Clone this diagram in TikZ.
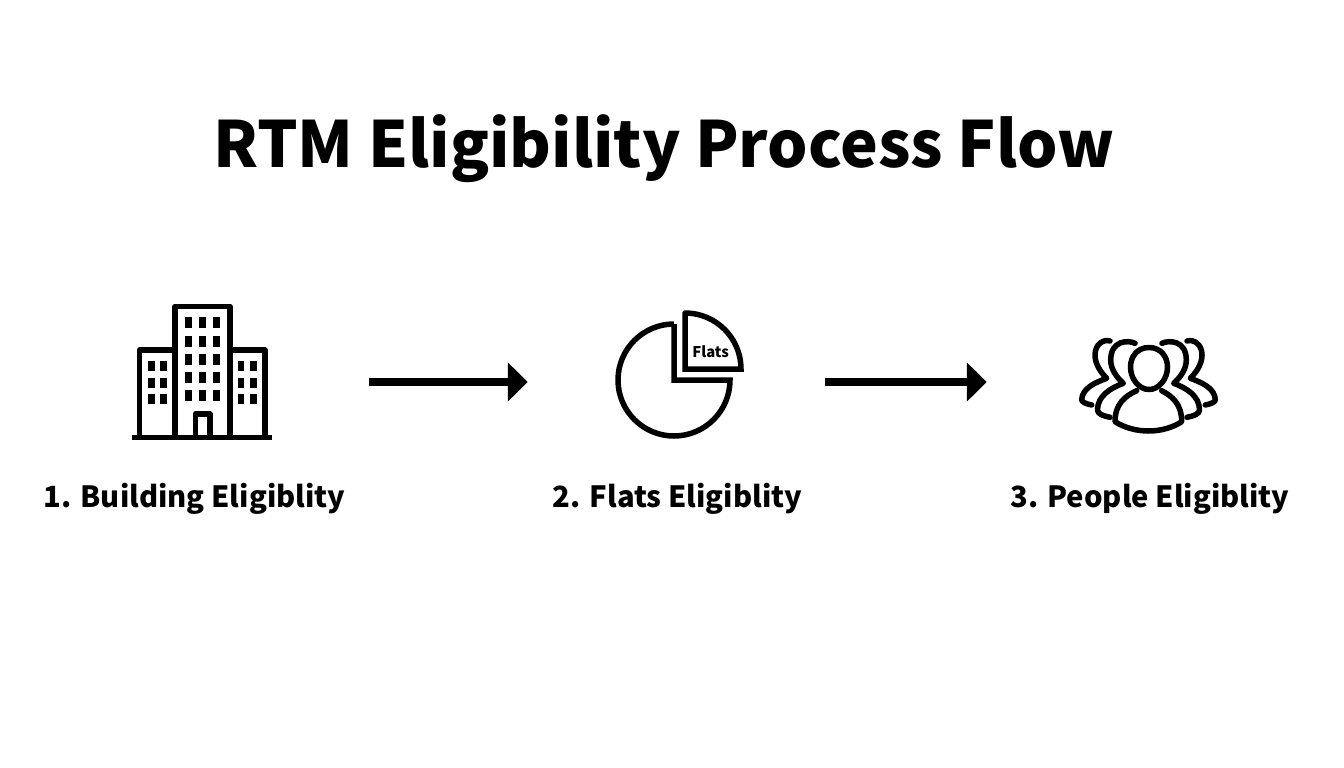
\documentclass[tikz,border=0pt]{standalone}
\usepackage{fontspec}
\setmainfont{Noto Sans CJK SC}
\usetikzlibrary{arrows.meta}
\tikzset{
    title/.style={font=\bfseries\fontsize{63.7}{68}\selectfont, inner sep=0pt, anchor=base},
    caption/.style={font=\bfseries\fontsize{29.2}{36}\selectfont, inner sep=0pt, anchor=base},
    icon/.style={minimum height=120pt, inner sep=0pt},
    outline/.style={line width=5.5pt, line join=round, line cap=round},
    flow/.style={line width=8pt, -{Triangle[length=20pt, width=38pt]}},
    pane/.style={fill=black, minimum width=7pt, minimum height=11pt, inner sep=0pt},
    smallpane/.style={fill=black, minimum width=6.5pt, minimum height=10pt, inner sep=0pt}
}
\begin{document}
\begin{tikzpicture}[x=1pt, y=-1pt]
    \useasboundingbox (0,0) rectangle (1344,768);

    \node[title] (heading) at (664,167) {RTM Eligibility Process Flow};

    \node[icon, minimum width=140pt] (building) at (202,382) {};
    \node[icon, minimum width=126pt] (flats) at (679,382) {};
    \node[icon, minimum width=138pt] (people) at (1148,382) {};

    \node[caption] (building-label) at (194.5,507) {1. Building Eligiblity};
    \node[caption] (flats-label) at (677.5,507) {2. Flats Eligiblity};
    \node[caption] (people-label) at (1150,507) {3. People Eligiblity};

    % building
    \draw[outline, line cap=butt] (132,437.5) -- (272,437.5);
    \draw[outline] (139.7,437) -- (139.7,350) -- (175,350)
        (175,437) -- (175,306.5) -- (230,306.5) -- (230,437)
        (230,350) -- (265,350) -- (265,437)
        (195.3,437) -- (195.3,414) -- (210,414) -- (210,437);
    \foreach \x in {188,202.3,216.3}
        \foreach \y in {322.7,341,359,377.3,395.3}
            \node[pane] (pane-\x-\y) at (\x,\y) {};
    \foreach \x in {151.3,163.7,241,253.3}
        \foreach \y in {366,382.7,399.3}
            \node[smallpane] (smallpane-\x-\y) at (\x,\y) {};

    % flats
    \draw[outline, line join=miter, line cap=butt] (674,324) -- (674,380) -- (730,380)
        arc[start angle=0, end angle=270, radius=56];
    \draw[outline, line join=miter] (685,313) -- (685,369) -- (741,369)
        arc[start angle=0, end angle=-90, radius=56];
    \node[font=\bfseries\fontsize{14.8}{18}\selectfont, inner sep=0pt] (flats-tag) at (710.7,352) {Flats};

    % people
    \draw[outline] (1149,347.5)
        .. controls (1161,347.5) and (1167.5,357) .. (1167.5,367)
        .. controls (1167.5,379) and (1159,389.5) .. (1149,389.5)
        .. controls (1139,389.5) and (1130.5,379) .. (1130.5,367)
        .. controls (1130.5,357) and (1137,347.5) .. (1149,347.5);
    \draw[outline] (1136.7,390.7)
        .. controls (1125,396) and (1115,404) .. (1115,421.7)
        .. controls (1125,428) and (1137,431) .. (1148.5,431)
        .. controls (1160,431) and (1172,428) .. (1181.7,421.7)
        .. controls (1181.7,404) and (1172,396) .. (1161.7,390.7);
    \foreach \side in {-1,1}
        \draw[outline, shift={(1148.5,0)}, xscale=\side]
            (-13.5,343.3) .. controls (-20,340) and (-37.8,340) .. (-37.8,360)
            .. controls (-37.8,370) and (-31,378) .. (-25.2,383.3)
            .. controls (-38,388) and (-51,396) .. (-51,410)
            .. controls (-51,414) and (-45,416) .. (-38.5,417.3)
            (-38.5,341) .. controls (-45,339) and (-53.5,344) .. (-53.5,355)
            .. controls (-53.5,364) and (-48,372) .. (-41.8,378.3)
            .. controls (-52,382) and (-66.8,388) .. (-66.8,400)
            .. controls (-66.8,402) and (-62,404) .. (-56.8,405);

    % flow
    \draw[flow, shorten <=97pt, shorten >=88pt] (building.east) -- (flats.west);
    \draw[flow, shorten <=83pt, shorten >=92pt] (flats.east) -- (people.west);
\end{tikzpicture}
\end{document}
